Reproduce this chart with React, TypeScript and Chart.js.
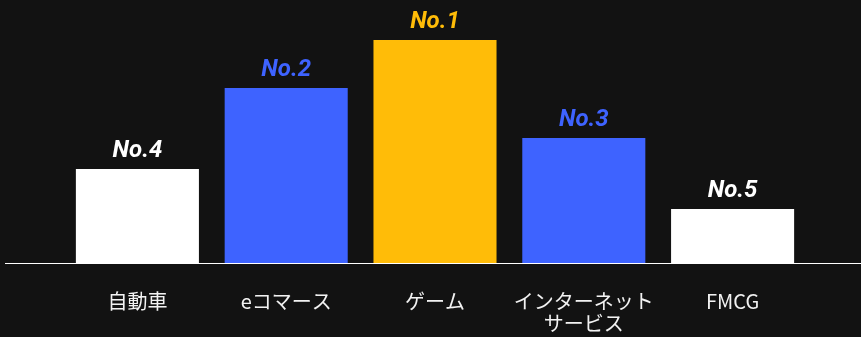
import React, { useEffect, useRef } from "react";
import { Chart, registerables } from "chart.js";

Chart.register(...registerables);

const categories: (string | string[])[] = [
  "自動車",
  "eコマース",
  "ゲーム",
  ["インターネット", "サービス"],
  "FMCG",
];
const values: number[] = [42.2, 78.5, 100, 56.1, 24.2];
const rankLabels: string[] = ["No.4", "No.2", "No.1", "No.3", "No.5"];
const barColors: string[] = ["#ffffff", "#3e63ff", "#ffbc08", "#3e63ff", "#ffffff"];

const BG = "#121212";

const bgPlugin = {
  id: "bgFill",
  beforeDraw(chart: any) {
    const { ctx, width, height } = chart;
    ctx.save();
    ctx.fillStyle = BG;
    ctx.fillRect(0, 0, width, height);
    ctx.restore();
  },
};

const baselinePlugin = {
  id: "baseline",
  afterDatasetsDraw(chart: any) {
    const { ctx, width } = chart;
    const y = chart.scales.y.getPixelForValue(0);
    ctx.save();
    ctx.strokeStyle = "#ffffff";
    ctx.lineWidth = 1;
    ctx.beginPath();
    ctx.moveTo(5, Math.round(y) + 0.5);
    ctx.lineTo(width, Math.round(y) + 0.5);
    ctx.stroke();
    ctx.restore();
  },
};

const rankPlugin = {
  id: "rankLabels",
  afterDatasetsDraw(chart: any) {
    const { ctx } = chart;
    const meta = chart.getDatasetMeta(0);
    ctx.save();
    ctx.font = "italic bold 24px Roboto";
    ctx.textAlign = "center";
    ctx.textBaseline = "alphabetic";
    meta.data.forEach((bar: any, i: number) => {
      ctx.fillStyle = barColors[i];
      ctx.fillText(rankLabels[i], bar.x, bar.y - 12);
    });
    ctx.restore();
  },
};

export default function App() {
  const ref = useRef<HTMLCanvasElement | null>(null);

  useEffect(() => {
    if (!ref.current) return;
    const chart = new Chart(ref.current, {
      type: "bar",
      data: {
        labels: categories,
        datasets: [
          {
            data: values,
            backgroundColor: barColors,
            borderWidth: 0,
            categoryPercentage: 1,
            barPercentage: 0.827,
          },
        ],
      },
      options: {
        animation: false,
        responsive: false,
        layout: { padding: { left: 63, right: 54, top: 40, bottom: 0 } },
        plugins: {
          legend: { display: false },
          tooltip: { enabled: false },
          title: { display: false },
        },
        scales: {
          x: {
            grid: { display: false, drawTicks: false },
            border: { display: false },
            ticks: {
              color: "#f2f2f2",
              padding: 27,
              autoSkip: false,
              maxRotation: 0,
              minRotation: 0,
              font: { family: "'Noto Sans CJK JP', 'Noto Sans', sans-serif", size: 20, lineHeight: 1.12 },
            },
            afterFit: (scale: any) => {
              scale.height = 74;
            },
          },
          y: {
            display: false,
            min: 0,
            max: 100,
          },
        },
      },
      plugins: [bgPlugin, baselinePlugin, rankPlugin],
    });
    return () => chart.destroy();
  }, []);

  return (
    <div
      style={{
        position: "fixed",
        left: 0,
        top: 0,
        width: 861,
        height: 337,
        background: BG,
      }}
    >
      <canvas ref={ref} width={861} height={337} style={{ display: "block" }} />
    </div>
  );
}
